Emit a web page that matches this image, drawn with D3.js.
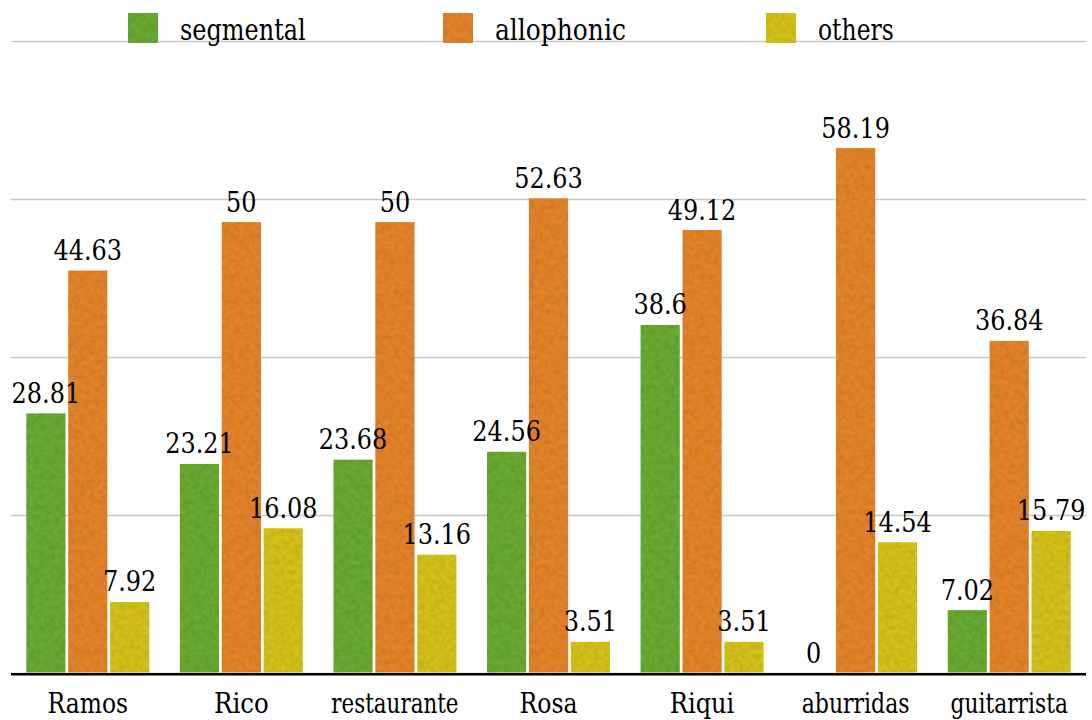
<!DOCTYPE html>
<html>
<head>
<meta charset="utf-8">
<script src="https://cdn.jsdelivr.net/npm/d3@7"></script>
<style>
  html, body { margin: 0; padding: 0; background: #fff; }
  svg { display: block; }
</style>
</head>
<body>
<svg id="chart" width="1092" height="720"></svg>
<script>
// Word categories and the share (%) of each error type
const categories = ["Ramos", "Rico", "restaurante", "Rosa", "Riqui", "aburridas", "guitarrista"];
const seriesNames = ["segmental", "allophonic", "others"];
const segmental  = [28.81, 23.21, 23.68, 24.56, 38.6, 0, 7.02];
const allophonic = [44.63, 50, 50, 52.63, 49.12, 58.19, 36.84];
const others     = [7.92, 16.08, 13.16, 3.51, 3.51, 14.54, 15.79];
const gridTicks  = [0, 17.5, 35, 52.5, 70];

const seriesValues = [segmental, allophonic, others];
const colors = ["#67aa31", "#e2822a", "#d3c11f"];
const FONT = "'DejaVu Serif', serif";

// Times-style advance widths (per em) so the serif text keeps a compact set width
const ADV = { "0": .5, "1": .5, "2": .5, "3": .5, "4": .5, "5": .5, "6": .5, "7": .5, "8": .5, "9": .5,
  ".": .25, a: .444, b: .5, c: .444, d: .5, e: .444, g: .5, h: .5, i: .278, l: .278, m: .778,
  n: .5, o: .5, p: .5, q: .5, r: .333, s: .389, t: .278, u: .5, R: .667 };
const setWidth = (str, size) => Array.from(str).reduce((w, ch) => w + (ADV[ch] || .5), 0) * size;
const SIZE_RATIO = 0.94;

function styleText(sel, size) {
  sel.style("font-family", FONT)
    .attr("font-size", size * SIZE_RATIO)
    .attr("fill", "#000")
    .attr("lengthAdjust", "spacingAndGlyphs")
    .attr("textLength", function (d) { return setWidth(this.textContent, size); });
}

const plot = { left: 11, right: 1086, top: 41.5, bottom: 673.5 };

const svg = d3.select("#chart");

// light mottled texture on the bar fills
const defs = svg.append("defs");
const f = defs.append("filter").attr("id", "grain")
  .attr("x", 0).attr("y", 0).attr("width", 1).attr("height", 1);
f.append("feTurbulence").attr("type", "fractalNoise").attr("baseFrequency", 0.2)
  .attr("numOctaves", 2).attr("seed", 7).attr("result", "noise");
f.append("feColorMatrix").attr("in", "noise").attr("type", "matrix")
  .attr("values", "0 0 0 0 0  0 0 0 0 0  0 0 0 0 0  0.4 0 0 0 -0.14").attr("result", "shade");
f.append("feComposite").attr("in", "shade").attr("in2", "SourceGraphic")
  .attr("operator", "in").attr("result", "shadeIn");
const m = f.append("feMerge");
m.append("feMergeNode").attr("in", "SourceGraphic");
m.append("feMergeNode").attr("in", "shadeIn");

const x0 = d3.scaleBand().domain(categories).range([plot.left, plot.right])
  .paddingInner(0).paddingOuter(0);
const groupPad = 15.3;
const x1 = d3.scaleBand().domain(seriesNames)
  .range([groupPad, x0.bandwidth() - groupPad]).paddingInner(0.065).paddingOuter(0);
const y = d3.scaleLinear().domain([0, 70]).range([plot.bottom, plot.top]);

// horizontal gridlines
svg.append("g").selectAll("line").data(gridTicks).join("line")
  .attr("x1", plot.left).attr("x2", plot.right)
  .attr("y1", d => y(d)).attr("y2", d => y(d))
  .attr("stroke", "#c8c8c8").attr("stroke-width", 1.4);

// bars
const rows = [];
categories.forEach((c, i) => {
  seriesNames.forEach((s, j) => rows.push({ cat: c, series: s, idx: j, value: seriesValues[j][i] }));
});

const barBase = y(0) - 1;
svg.append("g").attr("filter", "url(#grain)").selectAll("rect").data(rows).join("rect")
  .attr("x", d => x0(d.cat) + x1(d.series))
  .attr("width", x1.bandwidth())
  .attr("y", d => y(d.value))
  .attr("height", d => Math.max(0, barBase - y(d.value)))
  .attr("fill", d => colors[d.idx]);

// value labels
svg.append("g").selectAll("text").data(rows).join("text")
  .attr("x", d => x0(d.cat) + x1(d.series) + x1.bandwidth() / 2)
  .attr("y", d => y(d.value) - 10.5)
  .attr("text-anchor", "middle")
  .text(d => String(d.value))
  .call(styleText, 30.5);

// baseline axis
const xAxis = d3.axisBottom(x0).tickSize(0).tickPadding(0);
const gx = svg.append("g").attr("transform", `translate(0,${y(0) + 0.8})`).call(xAxis);
gx.attr("font-family", null).attr("font-size", null);
gx.select(".domain").attr("stroke", "#000").attr("stroke-width", 2.6)
  .attr("d", `M${plot.left},0H${plot.right}`);
gx.selectAll(".tick text")
  .attr("dy", null).attr("y", 38.5)
  .call(styleText, 29);

// legend
const legendX = [128, 443, 766];
const lg = svg.append("g").selectAll("g").data(seriesNames).join("g")
  .attr("transform", (d, i) => `translate(${legendX[i]},13)`);
lg.append("rect").attr("width", 30).attr("height", 30)
  .attr("fill", (d, i) => colors[i]).attr("filter", "url(#grain)");
lg.append("text").attr("x", 52).attr("y", 27)
  .text(d => d)
  .call(styleText, 31);
</script>
</body>
</html>
